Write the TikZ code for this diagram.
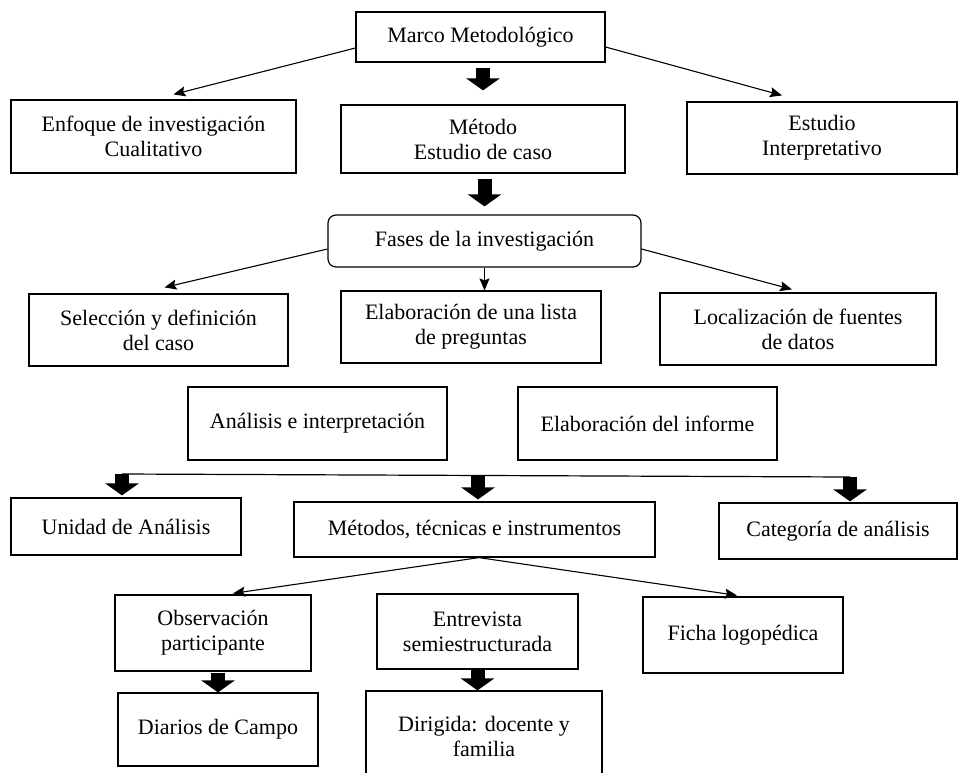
\documentclass[tikz,border=0pt]{standalone}
\usepackage{fontspec}
\setmainfont{Liberation Serif}
\usetikzlibrary{arrows.meta,positioning,calc}

\tikzset{
  box/.style={draw, line width=1.2pt, rectangle, align=center, inner sep=2pt,
    font=\fontsize{22}{25}\selectfont},
  thinarrow/.style={line width=1.1pt, -{Stealth[length=12pt,width=10pt,inset=2pt]}},
  bigarrow/.style={line width=14pt, -{Triangle[length=12pt,width=33pt]}},
}

\begin{document}
\begin{tikzpicture}[x=1pt, y=-1pt]
  \useasboundingbox (0,0) rectangle (958,772);
  \clip (0,0) rectangle (958,772);

  % Top level
  \node[box, minimum width=249pt, minimum height=50pt] (marco) at (480.5,37) {Marco Metodológico};
  \node[box, minimum width=285pt, minimum height=73pt] (enfoque) at (153.5,136.5) {Enfoque de investigación\\Cualitativo};
  \node[box, minimum width=284pt, minimum height=68pt] (metodo) at (483,139) {Método\\Estudio de caso};
  \node[box, minimum width=270pt, minimum height=72pt] (estudio) at (822,138) {Estudio\\Interpretativo};

  \draw[thinarrow] ([yshift=-11pt]marco.west) -- ([xshift=20pt,yshift=5pt]enfoque.north);
  \draw[thinarrow] ([yshift=-10pt]marco.east) -- ([xshift=-40pt,yshift=6pt]estudio.north);
  \draw[bigarrow, shorten <=5pt, shorten >=14pt] (metodo.north |- marco.south) -- (metodo.north);

  % Fases de la investigacion
  \node[box, rounded corners=8pt, minimum width=313pt, minimum height=52pt] (fases) at (484.5,241) {Fases de la investigación};
  \draw[bigarrow, shorten <=5pt, shorten >=8pt] (fases.north |- metodo.south) -- (fases.north);

  \node[box, minimum width=259pt, minimum height=72pt] (seleccion) at (158.5,330) {Selección y definición\\del caso};
  \node[box, minimum width=260pt, minimum height=72pt] (lista) at (471,327) {Elaboración de una lista\\de preguntas};
  \node[box, minimum width=276pt, minimum height=72pt] (localizacion) at (798,329) {Localización de fuentes\\de datos};

  \draw[thinarrow] ([yshift=-8pt]fases.west) -- ([xshift=6pt,yshift=6pt]seleccion.north);
  \draw[thinarrow] (fases.south) -- (fases.south |- lista.north);
  \draw[thinarrow] ([yshift=-8pt]fases.east) -- ([xshift=-6pt,yshift=3pt]localizacion.north);

  \node[box, minimum width=259pt, minimum height=73pt] (analisis) at (317.5,423.5) {Análisis e interpretación};
  \node[box, minimum width=259pt, minimum height=73pt] (informe) at (647.5,423.5) {Elaboración del informe};

  % Branch line
  \coordinate (bar1) at (122,474);
  \coordinate (bar2) at (478,475);
  \coordinate (bar3) at (850,477);
  \draw[line width=1.2pt] (bar1) -- (bar3);

  \node[box, minimum width=230pt, minimum height=57pt] (unidad) at (126,526.5) {Unidad de Análisis};
  \node[box, minimum width=361pt, minimum height=55pt] (metodos) at (474.5,529.5) {Métodos, técnicas e instrumentos};
  \node[box, minimum width=238pt, minimum height=56pt] (categoria) at (838,531) {Categoría de análisis};

  \draw[bigarrow, shorten >=2pt] (bar1) -- (bar1 |- unidad.north);
  \draw[bigarrow, shorten >=2pt] (bar2) -- (bar2 |- metodos.north);
  \draw[bigarrow, shorten >=1pt] (bar3) -- (bar3 |- categoria.north);

  % Instrumentos
  \node[box, minimum width=196pt, minimum height=76pt] (observacion) at (213,633) {Observación\\participante};
  \node[box, minimum width=201pt, minimum height=75pt] (entrevista) at (477.5,631.5) {Entrevista\\semiestructurada};
  \node[box, minimum width=200pt, minimum height=76pt] (ficha) at (743,635) {Ficha logopédica};

  \draw[thinarrow] ([xshift=4.5pt]metodos.south) -- ([xshift=20pt,yshift=1pt]observacion.north);
  \draw[thinarrow] ([xshift=4.5pt]metodos.south) -- ([xshift=-6pt,yshift=1pt]ficha.north);

  \node[box, minimum width=200pt, minimum height=73pt] (diarios) at (218,729.5) {Diarios de Campo};
  \node[box, minimum width=236pt, minimum height=90pt] (dirigida) at (484,736) {Dirigida: docente y\\familia};

  \draw[bigarrow, shorten <=1pt] (diarios.north |- observacion.south) -- (diarios.north);
  \draw[bigarrow] (entrevista.south) -- (entrevista.south |- dirigida.north);
\end{tikzpicture}
\end{document}
